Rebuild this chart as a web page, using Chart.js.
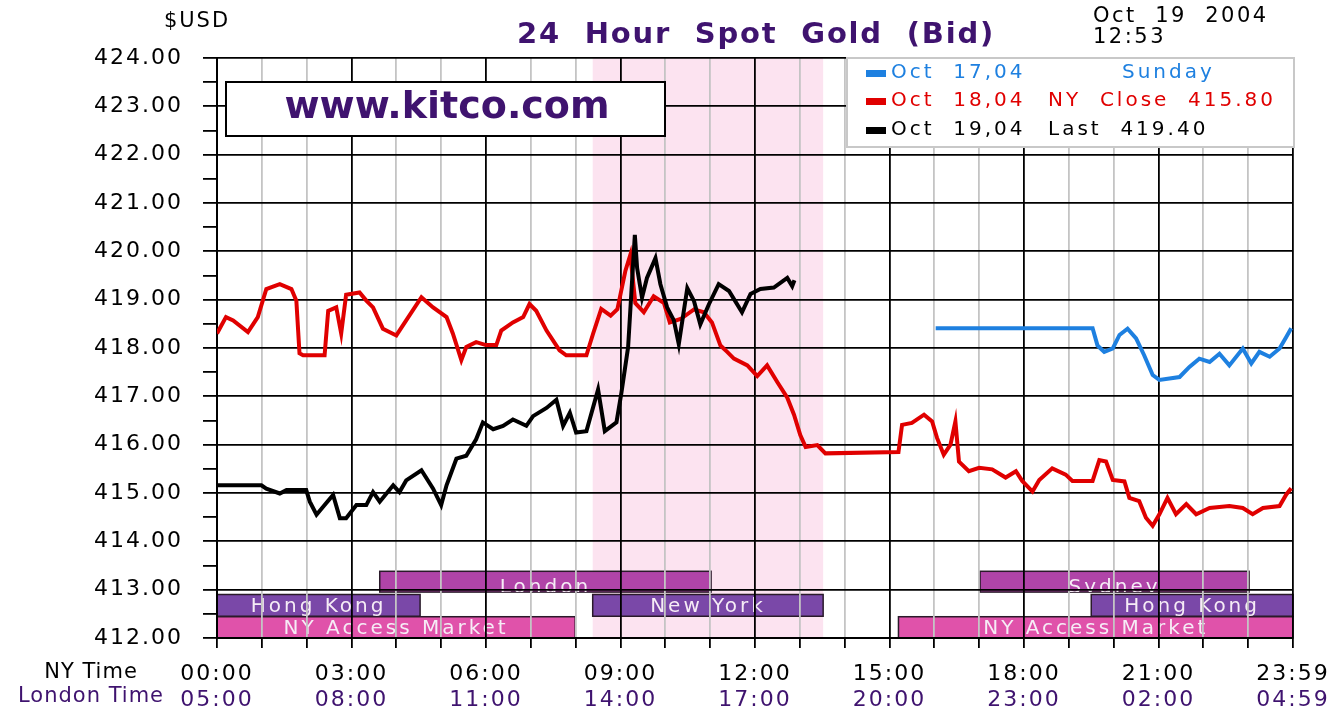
<!DOCTYPE html>
<html>
<head>
<meta charset="utf-8">
<title>24 Hour Spot Gold (Bid)</title>
<script src="https://cdn.jsdelivr.net/npm/chart.js@4.4.1/dist/chart.umd.min.js"></script>
<style>
  html, body { margin: 0; padding: 0; background: #fff; }
  #wrap { width: 1336px; height: 714px; }
</style>
</head>
<body>
<div id="wrap"><canvas id="goldChart" width="1336" height="714"></canvas></div>
<script>
// times are hours after midnight, NY time
const oct17Times = [16.03, 19.53, 19.64, 19.79, 19.98, 20.13, 20.31, 20.5, 20.68, 20.87, 21.02, 21.47, 21.69, 21.91,
  22.14, 22.36, 22.58, 22.88, 23.07, 23.25, 23.48, 23.7, 23.85, 23.96];
const oct17Values = [418.41, 418.41, 418.05, 417.92, 417.99, 418.27, 418.4, 418.2, 417.85, 417.44, 417.34, 417.4, 417.61, 417.78,
  417.71, 417.88, 417.64, 417.99, 417.68, 417.92, 417.82, 417.99, 418.23, 418.41];

const oct18Times = [0, 0.2, 0.36, 0.69, 0.91, 1.1, 1.4, 1.66, 1.77, 1.84, 1.92, 2.4, 2.48, 2.66, 2.77, 2.88, 3.18, 3.33,
  3.48, 3.7, 4.0, 4.22, 4.56, 4.82, 5.12, 5.26, 5.45, 5.56, 5.78, 6.0, 6.23, 6.34, 6.6, 6.83, 6.97, 7.12, 7.35, 7.64,
  7.79, 8.24, 8.39, 8.57, 8.78, 8.93, 9.11, 9.22, 9.33, 9.52, 9.74, 9.97, 10.1, 10.34, 10.64, 10.86, 11.04, 11.23,
  11.38, 11.53, 11.83, 12.05, 12.27, 12.5, 12.72, 12.87, 13.01, 13.13, 13.39, 13.57, 15.2, 15.28, 15.5, 15.77, 15.95,
  16.06, 16.21, 16.36, 16.47, 16.55, 16.77, 17.0, 17.29, 17.59, 17.82, 17.96, 18.19, 18.34, 18.63, 18.93, 19.08,
  19.53, 19.68, 19.83, 19.98, 20.24, 20.35, 20.57, 20.72, 20.87, 21.02, 21.2, 21.39, 21.62, 21.84, 22.14, 22.58,
  22.88, 23.1, 23.33, 23.7, 23.85, 23.96];
const oct18Values = [418.3, 418.64, 418.57, 418.33, 418.64, 419.22, 419.32, 419.22, 418.98, 417.89, 417.85, 417.85, 418.77,
  418.84, 418.3, 419.1, 419.15, 418.98, 418.84, 418.4, 418.26, 418.57, 419.05, 418.84, 418.64, 418.3, 417.75, 418.02,
  418.12, 418.06, 418.06, 418.36, 418.53, 418.64, 418.91, 418.77, 418.36, 417.95, 417.85, 417.85, 418.3, 418.81,
  418.67, 418.8, 419.6, 419.93, 418.93, 418.74, 419.07, 418.93, 418.53, 418.6, 418.8, 418.74, 418.53, 418.05, 417.92,
  417.78, 417.64, 417.42, 417.64, 417.29, 416.97, 416.62, 416.2, 415.95, 415.99, 415.82, 415.85, 416.41, 416.45,
  416.62, 416.48, 416.14, 415.79, 416.0, 416.48, 415.65, 415.45, 415.52, 415.49, 415.32, 415.45, 415.25, 415.03,
  415.27, 415.51, 415.38, 415.25, 415.25, 415.68, 415.65, 415.27, 415.24, 414.9, 414.83, 414.49, 414.32, 414.56,
  414.9, 414.56, 414.77, 414.56, 414.69, 414.73, 414.69, 414.56, 414.69, 414.73, 414.97, 415.1];

const oct19Times = [0, 0.99, 1.1, 1.4, 1.55, 1.99, 2.07, 2.22, 2.4, 2.59, 2.74, 2.88, 3.11, 3.33, 3.48, 3.63, 3.93, 4.07,
  4.22, 4.56, 4.82, 5.0, 5.12, 5.34, 5.56, 5.78, 5.93, 6.16, 6.38, 6.6, 6.9, 7.05, 7.35, 7.57, 7.72, 7.87, 8.01, 8.24,
  8.5, 8.65, 8.91, 9.02, 9.17, 9.24, 9.32, 9.37, 9.48, 9.59, 9.78, 9.89, 10.04, 10.19, 10.3, 10.49, 10.64, 10.78,
  10.97, 11.19, 11.42, 11.71, 11.9, 12.12, 12.42, 12.72, 12.83, 12.88];
const oct19Values = [415.16, 415.16, 415.09, 414.99, 415.06, 415.06, 414.82, 414.55, 414.75, 414.96, 414.48, 414.48, 414.75,
  414.75, 415.02, 414.82, 415.16, 415.02, 415.26, 415.47, 415.09, 414.75, 415.16, 415.71, 415.77, 416.11, 416.46,
  416.32, 416.39, 416.52, 416.39, 416.59, 416.76, 416.93, 416.39, 416.66, 416.25, 416.28, 417.14, 416.28, 416.46,
  417.07, 418.02, 419.11, 420.34, 419.66, 419.04, 419.45, 419.86, 419.32, 418.84, 418.57, 418.08, 419.24, 418.97,
  418.49, 418.9, 419.32, 419.18, 418.74, 419.12, 419.22, 419.25, 419.45, 419.28, 419.4];

const nyTickHours = [0, 3, 6, 9, 12, 15, 18, 21, 24];
const nyTickLabels = ['00:00', '03:00', '06:00', '09:00', '12:00', '15:00', '18:00', '21:00', '23:59'];
const londonTickLabels = ['05:00', '08:00', '11:00', '14:00', '17:00', '20:00', '23:00', '02:00', '04:59'];

const sessionNames = ['London', 'Hong Kong', 'New York', 'NY Access Market', 'Sydney', 'Hong Kong', 'NY Access Market'];
const sessionStart = [3.63, 0, 8.38, 0, 17.02, 19.5, 15.2];
const sessionEnd = [11.02, 4.53, 13.52, 7.99, 23.02, 24, 24];
const sessionRow = [0, 1, 1, 2, 0, 1, 2];
const comexStart = 8.38;
const comexEnd = 13.52;

const legendLabels = ['Oct 17,04', 'Oct 18,04', 'Oct 19,04'];
const legendNotes = ['Sunday', 'NY  Close  415.80', 'Last  419.40'];

const toPoints = (times, values) => times.map((t, i) => ({ x: t, y: values[i] }));

const FONT = 'DejaVu Sans';
const PURPLE = '#3f136f';
const rowColors = ['#b044a8', '#7a48a8', '#e052aa'];
const rowBounds = [[413.38, 412.95], [412.9, 412.45], [412.44, 412.0]];

const decor = {
  id: 'decor',
  beforeDraw(chart) {
    const { ctx, chartArea: a } = chart;
    const xs = chart.scales.x, ys = chart.scales.y;
    ctx.save();
    ctx.fillStyle = '#fff';
    ctx.fillRect(0, 0, chart.width, chart.height);

    // COMEX hours band
    const b0 = xs.getPixelForValue(comexStart), b1 = xs.getPixelForValue(comexEnd);
    ctx.fillStyle = '#fce3f0';
    ctx.fillRect(b0, a.top, b1 - b0, a.bottom - a.top);

    // market sessions
    ctx.font = '20px ' + FONT;
    ctx.letterSpacing = '3px';
    ctx.textAlign = 'center';
    ctx.textBaseline = 'alphabetic';
    sessionNames.forEach((name, i) => {
      const r = sessionRow[i];
      const x0 = xs.getPixelForValue(sessionStart[i]);
      const x1 = xs.getPixelForValue(sessionEnd[i]);
      const y0 = ys.getPixelForValue(rowBounds[r][0]);
      const y1 = ys.getPixelForValue(rowBounds[r][1]);
      ctx.fillStyle = rowColors[r];
      ctx.fillRect(x0, y0, x1 - x0, y1 - y0);
      ctx.strokeStyle = '#2a1a2a';
      ctx.lineWidth = 1.5;
      ctx.strokeRect(x0, y0, x1 - x0, y1 - y0);
      ctx.save();
      ctx.beginPath();
      ctx.rect(x0, y0, x1 - x0, y1 - y0);
      ctx.clip();
      ctx.fillStyle = '#f6ecf6';
      ctx.fillText(name, (x0 + x1) / 2, r === 0 ? y1 + 1 : y1 - 4);
      ctx.restore();
    });
    ctx.restore();
    ctx.letterSpacing = '2px';
  },
  afterDraw(chart) {
    const { ctx, chartArea: a } = chart;
    ctx.save();
    ctx.textBaseline = 'middle';

    // kitco box
    ctx.fillStyle = '#fff';
    ctx.fillRect(226, 82, 439, 54);
    ctx.strokeStyle = '#000';
    ctx.lineWidth = 2;
    ctx.strokeRect(226, 82, 439, 54);
    ctx.fillStyle = PURPLE;
    ctx.font = 'bold 38px ' + FONT;
    ctx.letterSpacing = '0px';
    ctx.textAlign = 'center';
    ctx.fillText('www.kitco.com', 447, 108);

    // legend box
    ctx.fillStyle = '#fff';
    ctx.fillRect(847, a.top, a.right - 847 + 1, 89);
    ctx.strokeStyle = '#c8c8c8';
    ctx.strokeRect(847, a.top, a.right - 847 + 1, 89);
    ctx.font = '20px ' + FONT;
    ctx.letterSpacing = '3px';
    ctx.textAlign = 'left';
    const rows = [[0, 73, 1122], [1, 101, 1048], [2, 130, 1048]];
    rows.forEach(([i, y, nx]) => {
      const ds = chart.data.datasets.find(d => d.label === legendLabels[i]);
      ctx.fillStyle = ds.borderColor;
      ctx.fillRect(866, y - 3, 20, 7);
      ctx.fillText(legendLabels[i].replace(' ', '  '), 891, y);
      ctx.fillText(legendNotes[i], nx, y);
    });

    // title and header text
    ctx.fillStyle = PURPLE;
    ctx.font = 'bold 29px ' + FONT;
    ctx.letterSpacing = '1.8px';
    ctx.textAlign = 'center';
    ctx.fillText('24  Hour  Spot  Gold  (Bid)', 756, 35);

    ctx.fillStyle = '#000';
    ctx.font = '21px ' + FONT;
    ctx.letterSpacing = '2px';
    ctx.fillText('$USD', 197, 22);
    ctx.textAlign = 'left';
    ctx.letterSpacing = '2.5px';
    ctx.fillText('Oct  19  2004', 1093, 17);
    ctx.fillText('12:53', 1093, 38);

    ctx.textAlign = 'center';
    ctx.letterSpacing = '1px';
    ctx.fillText('NY Time', 91, 673);
    ctx.fillStyle = PURPLE;
    ctx.fillText('London Time', 91, 697);
    ctx.restore();
  }
};

const hourTicks = scale => { scale.ticks = Array.from({ length: 25 }, (_, i) => ({ value: i })); };

new Chart(document.getElementById('goldChart'), {
  type: 'line',
  data: {
    datasets: [
      { label: legendLabels[2], data: toPoints(oct19Times, oct19Values), borderColor: '#000000', order: 0 },
      { label: legendLabels[1], data: toPoints(oct18Times, oct18Values), borderColor: '#e00000', order: 1 },
      { label: legendLabels[0], data: toPoints(oct17Times, oct17Values), borderColor: '#1e80e0', order: 2 }
    ]
  },
  options: {
    responsive: false,
    animation: false,
    devicePixelRatio: 1,
    font: { family: FONT },
    layout: { padding: { left: 0, right: 43, top: 58, bottom: 0 } },
    elements: {
      line: { borderWidth: 4, tension: 0, fill: false, borderJoinStyle: 'miter' },
      point: { radius: 0 }
    },
    plugins: {
      legend: { display: false },
      tooltip: { enabled: false },
      title: { display: false }
    },
    scales: {
      x: {
        type: 'linear',
        position: 'bottom',
        min: 0,
        max: 24,
        afterBuildTicks: hourTicks,
        afterFit: s => { s.height = 47; s.paddingLeft = 0; s.paddingRight = 0; },
        grid: {
          color: c => (c.tick && c.tick.value % 3 === 0 ? '#000' : '#c4c4c4'),
          lineWidth: 1.8,
          tickColor: '#000',
          tickLength: 10
        },
        border: { display: true, color: '#000', width: 2 },
        ticks: {
          autoSkip: false,
          maxRotation: 0,
          padding: 13,
          color: '#000',
          font: { family: FONT, size: 22 },
          callback: v => { const i = nyTickHours.indexOf(v); return i >= 0 ? nyTickLabels[i] : ''; }
        }
      },
      x2: {
        type: 'linear',
        position: 'bottom',
        min: 0,
        max: 24,
        afterBuildTicks: hourTicks,
        afterFit: s => { s.height = 29; s.paddingLeft = 0; s.paddingRight = 0; },
        grid: { display: false },
        border: { display: false },
        ticks: {
          autoSkip: false,
          maxRotation: 0,
          padding: -6,
          color: PURPLE,
          font: { family: FONT, size: 22 },
          callback: v => { const i = nyTickHours.indexOf(v); return i >= 0 ? londonTickLabels[i] : ''; }
        }
      },
      y: {
        min: 412,
        max: 424,
        afterBuildTicks: s => { s.ticks = Array.from({ length: 25 }, (_, i) => ({ value: 412 + i / 2 })); },
        afterFit: s => { s.width = 217; s.paddingTop = 0; s.paddingBottom = 0; },
        grid: {
          color: c => (c.tick && c.tick.value % 1 === 0 ? '#000' : 'rgba(0,0,0,0)'),
          lineWidth: 1.8,
          tickColor: '#000',
          tickLength: 14
        },
        border: { display: true, color: '#000', width: 2 },
        ticks: {
          autoSkip: false,
          padding: 20,
          color: '#000',
          font: { family: FONT, size: 22 },
          callback: v => (v % 1 === 0 ? v.toFixed(2) : '')
        }
      }
    }
  },
  plugins: [decor]
});
</script>
</body>
</html>
